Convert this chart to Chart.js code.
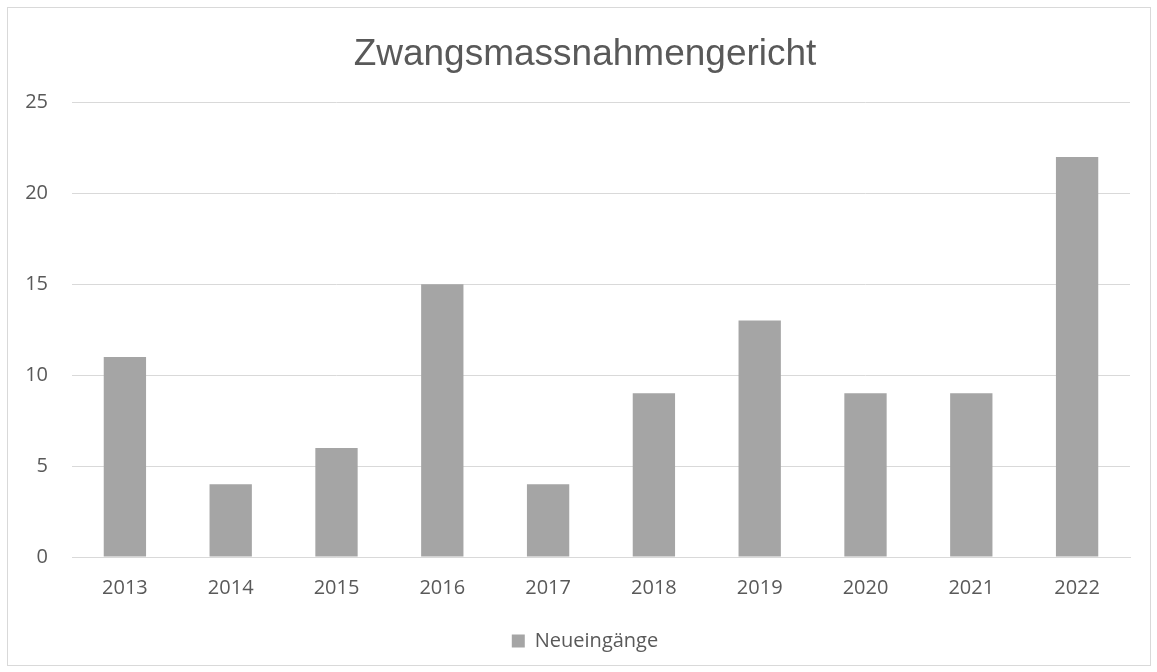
<!DOCTYPE html>
<html>
<head>
<meta charset="utf-8">
<script src="https://cdn.jsdelivr.net/npm/chart.js@4"></script>
<style>
  html, body { margin: 0; padding: 0; background: #fff; }
  #wrap { width: 1157px; height: 672px; }
</style>
</head>
<body>
<div id="wrap"><canvas id="c" width="1157" height="672"></canvas></div>
<script>
const chartTitle = "Zwangsmassnahmengericht";
const years = ["2013", "2014", "2015", "2016", "2017", "2018", "2019", "2020", "2021", "2022"];
const seriesName = "Neueingänge";
const neueingaenge = [11, 4, 6, 15, 4, 9, 13, 9, 9, 22];
const yTicks = [0, 5, 10, 15, 20, 25];

const textColor = "#595959";
const gridColor = "#d9d9d9";
const barColor = "#a5a5a5";
const fontFamily = "'Open Sans', 'Liberation Sans', sans-serif";
const titleFamily = "'Liberation Sans', Arial, sans-serif";

const borderPlugin = {
  id: "outerBorder",
  beforeDraw(chart) {
    const ctx = chart.ctx;
    ctx.save();
    ctx.fillStyle = "#ffffff";
    ctx.fillRect(0, 0, chart.width, chart.height);
    ctx.strokeStyle = gridColor;
    ctx.lineWidth = 1;
    ctx.strokeRect(7.5, 7.5, 1143, 658);
    ctx.restore();
  }
};

new Chart(document.getElementById("c"), {
  type: "bar",
  data: {
    labels: years,
    datasets: [{
      label: seriesName,
      data: neueingaenge,
      backgroundColor: barColor,
      borderWidth: 0,
      categoryPercentage: 1.0,
      barPercentage: 0.4
    }]
  },
  options: {
    responsive: false,
    animation: false,
    devicePixelRatio: 1,
    layout: { padding: { left: 13, right: 0, top: 0, bottom: 11 } },
    plugins: {
      title: {
        display: true,
        text: chartTitle,
        color: textColor,
        font: { family: titleFamily, size: 37, weight: "normal" },
        padding: { top: 33, bottom: 25 }
      },
      legend: {
        display: true,
        position: "bottom",
        labels: {
          color: textColor,
          font: { family: fontFamily, size: 20 },
          boxWidth: 13,
          boxHeight: 13,
          padding: 10
        }
      },
      tooltip: { enabled: false }
    },
    scales: {
      x: {
        grid: { display: false, drawTicks: false },
        border: { display: true, color: gridColor, width: 1 },
        ticks: { color: textColor, font: { family: fontFamily, size: 20 }, padding: 19, maxRotation: 0 },
        afterFit(scale) { scale.height = 64; }
      },
      y: {
        min: 0,
        max: 25,
        afterBuildTicks(scale) { scale.ticks = yTicks.map(v => ({ value: v })); },
        grid: { color: gridColor, lineWidth: 1, drawTicks: false },
        border: { display: false },
        ticks: { color: textColor, font: { family: fontFamily, size: 20 }, padding: 24 },
        afterFit(scale) { scale.width = 59; }
      },
      yRight: {
        position: "right",
        min: 0,
        max: 25,
        grid: { display: false, drawTicks: false },
        border: { display: false },
        ticks: { display: false },
        afterFit(scale) { scale.width = 27; }
      }
    }
  },
  plugins: [borderPlugin]
});
</script>
</body>
</html>
